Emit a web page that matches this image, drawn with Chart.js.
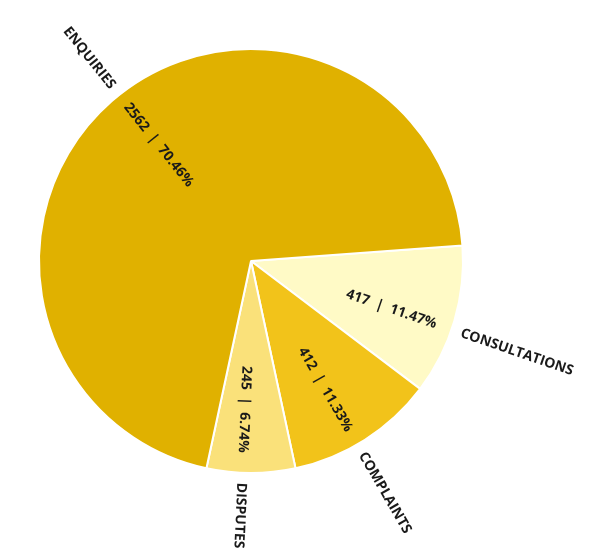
<!DOCTYPE html>
<html>
<head>
<meta charset="utf-8">
<script src="https://cdn.jsdelivr.net/npm/chart.js@4.4.1/dist/chart.umd.min.js"></script>
<style>
  html, body { margin: 0; padding: 0; background: #fff; }
  #wrap { width: 591px; height: 551px; }
</style>
</head>
<body>
<div id="wrap"><canvas id="pieChart"></canvas></div>
<script>
// Casos por tipo
const categorias = ['CONSULTATIONS', 'COMPLAINTS', 'DISPUTES', 'ENQUIRIES'];
const valores = [417, 412, 245, 2562];
const cores = ['#FFFAC6', '#F2C31A', '#FAE17A', '#E0B100'];

const total = valores.reduce((a, b) => a + b, 0);

// Rótulos radiais: valor | % dentro da fatia, nome fora
const rotulosRadiais = {
  id: 'rotulosRadiais',
  afterDatasetsDraw(chart) {
    const ctx = chart.ctx;
    const meta = chart.getDatasetMeta(0);
    ctx.save();
    ctx.fillStyle = '#1a1a1a';
    ctx.font = 'bold 14px "Open Sans", sans-serif';
    ctx.textBaseline = 'middle';
    meta.data.forEach((arc, i) => {
      const p = arc.getProps(['x', 'y', 'startAngle', 'endAngle', 'outerRadius'], true);
      // pequeno desvio horário dos rótulos
      const meio = (p.startAngle + p.endAngle) / 2 + 2.5 * Math.PI / 180;
      // só vira o texto nas fatias claramente do lado esquerdo
      const esquerda = Math.cos(meio) < -0.2;
      const rot = esquerda ? meio + Math.PI : meio;
      const pct = (valores[i] / total * 100).toFixed(2);

      // valor e percentagem
      const r1 = p.outerRadius * 0.70;
      ctx.save();
      ctx.translate(p.x + Math.cos(meio) * r1, p.y + Math.sin(meio) * r1);
      ctx.rotate(rot);
      ctx.textAlign = 'center';
      ctx.fillText(valores[i] + '  |  ' + pct + '%', 0, 0);
      ctx.restore();

      // nome da categoria
      const r2 = p.outerRadius + 10;
      ctx.save();
      ctx.translate(p.x + Math.cos(meio) * r2, p.y + Math.sin(meio) * r2);
      ctx.rotate(rot);
      ctx.textAlign = esquerda ? 'right' : 'left';
      ctx.fillText(categorias[i], 0, 0);
      ctx.restore();
    });
    ctx.restore();
  }
};

const pieChart = new Chart(document.getElementById('pieChart'), {
  type: 'pie',
  data: {
    labels: categorias,
    datasets: [{
      data: valores,
      backgroundColor: cores,
      borderColor: '#ffffff',
      borderWidth: 2
    }]
  },
  options: {
    responsive: true,
    maintainAspectRatio: false,
    animation: false,
    rotation: 85.8,
    layout: { padding: { left: 38, right: 127, top: 48, bottom: 77 } },
    plugins: {
      legend: { display: false },
      tooltip: { enabled: false }
    }
  },
  plugins: [rotulosRadiais]
});
</script>
</body>
</html>
